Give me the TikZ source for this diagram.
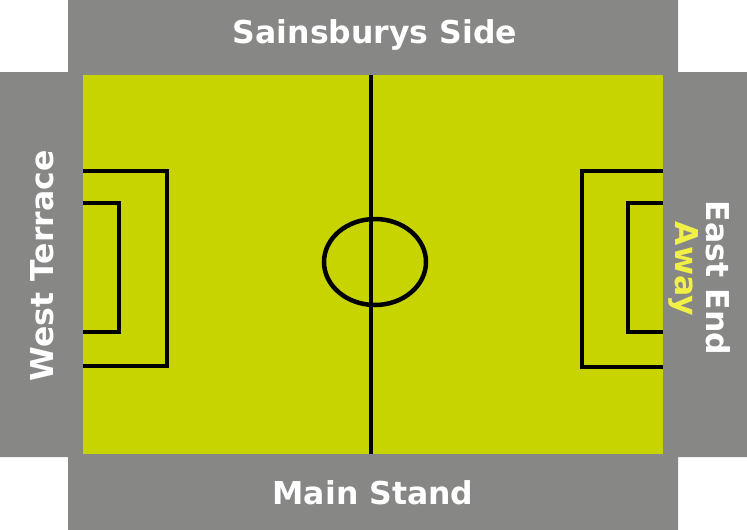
\documentclass[tikz,border=0pt]{standalone}
\usepackage{fontspec}
\setmainfont{DejaVu Sans}
\usepackage{tikz}
\definecolor{standgray}{RGB}{135,135,133}
\definecolor{pitchgreen}{RGB}{200,212,0}
\definecolor{awayyellow}{RGB}{240,240,70}

\begin{document}
\begin{tikzpicture}
  [x=1pt,y=-1pt,
   every node/.style={text=white,font=\fontsize{31.5}{34}\selectfont\bfseries,inner sep=0pt},
   pitchline/.style={line width=4.5pt,black}]
  \useasboundingbox (0,0) rectangle (747,530);
  % stands
  \fill[standgray] (68,0) -- (678,0) -- (678,72) -- (747,72) -- (747,457) -- (678,457)
    -- (678,530) -- (68,530) -- (68,457) -- (0,457) -- (0,72) -- (68,72) -- cycle;
  % pitch
  \fill[pitchgreen] (83,75) rectangle (663,454);
  \draw[pitchline] (371,75) -- (371,454);
  \draw[pitchline] (375,262) ellipse [x radius=51, y radius=43];
  \draw[pitchline] (83,171) -- (167,171) -- (167,366) -- (83,366);
  \draw[pitchline,line width=3.5pt] (83,203) -- (119,203) -- (119,332) -- (83,332);
  \draw[pitchline] (663,171) -- (582,171) -- (582,367) -- (663,367);
  \draw[pitchline,line width=3.5pt] (663,203) -- (628,203) -- (628,332) -- (663,332);

  \node (side) at (375,35) {Sainsburys Side};
  \node (main) at (373,493) {Main Stand};
  \node[rotate=90] (west) at (42,266) {West Terrace};
  \node[rotate=-90] (east) at (718,278) {East End};
  \node[rotate=-90,text=awayyellow] (away) at (684,269) {Away};
\end{tikzpicture}
\end{document}
